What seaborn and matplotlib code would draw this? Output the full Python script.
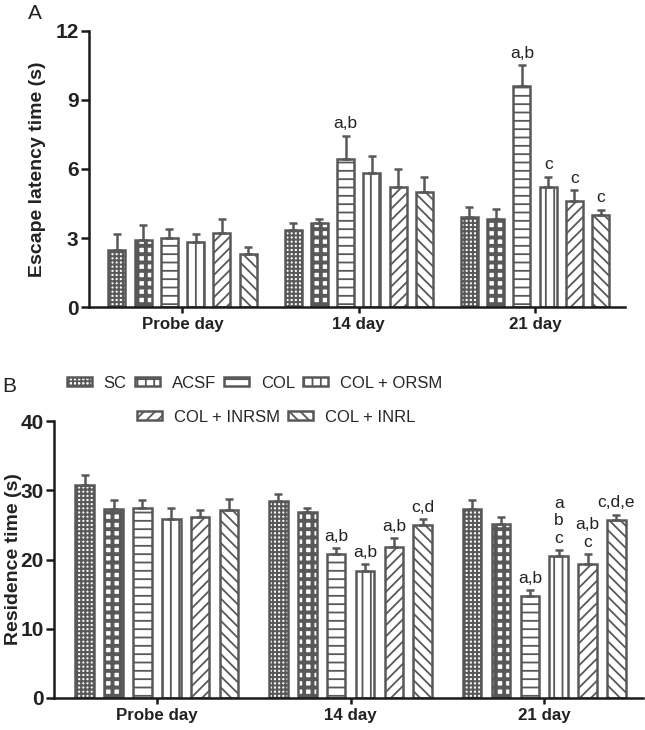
"""
Morris water maze: escape latency (A) and residence time (B) by group
"""
import matplotlib
matplotlib.use('Agg')
import matplotlib.pyplot as plt
from matplotlib import font_manager
from matplotlib.patches import Patch
import numpy as np
import pandas as pd
import seaborn as sns
import warnings

warnings.filterwarnings('ignore')

sns.set_style('ticks')
plt.rcParams['font.family'] = ['Liberation Sans', 'DejaVu Sans']

# ========== data ==========
days = ['Probe day', '14 day', '21 day']
groups = ['SC', 'ACSF', 'COL', 'COL + ORSM', 'COL + INRSM', 'COL + INRL']

# rows = days, columns = groups
latency_mean = [[2.47, 2.94, 2.99, 2.82, 3.24, 2.33],
                [3.37, 3.65, 6.45, 5.84, 5.20, 5.02],
                [3.90, 3.82, 9.60, 5.20, 4.60, 4.02]]
latency_sem = [[0.73, 0.61, 0.39, 0.34, 0.61, 0.27],
               [0.27, 0.20, 1.00, 0.74, 0.80, 0.65],
               [0.47, 0.46, 0.92, 0.47, 0.47, 0.22]]
latency_marks = [['', '', '', '', '', ''],
                 ['', '', 'a,b', '', '', ''],
                 ['', '', 'a,b', 'c', 'c', 'c']]

residence_mean = [[30.8, 27.3, 27.5, 25.9, 26.2, 27.2],
                  [28.4, 26.9, 20.8, 18.3, 21.8, 25.0],
                  [27.3, 25.2, 14.7, 20.5, 19.3, 25.7]]
residence_sem = [[1.4, 1.3, 1.1, 1.5, 1.0, 1.6],
                 [1.1, 0.6, 0.9, 1.1, 1.3, 0.9],
                 [1.3, 0.9, 0.9, 0.9, 1.5, 0.8]]
residence_marks = [['', '', '', '', '', ''],
                   ['', '', 'a,b', 'a,b', 'a,b', 'c,d'],
                   ['', '', 'a,b', 'a\nb\nc', 'a,b\nc', 'c,d,e']]

# ========== style ==========
EDGE = '#585858'
AXIS = '#1a1a1a'
TEXT = '#222222'
HATCHES = ['++++', '++', '--', '||', '///', '\\\\\\']
HATCH_LW = [1.5, 2.8, 1.3, 1.3, 1.3, 1.3]
plt.rcParams['hatch.color'] = EDGE
plt.rcParams['hatch.linewidth'] = 1.3
per_artist_hatch = hasattr(Patch, 'set_hatch_linewidth')

names = [f.name for f in font_manager.fontManager.ttflist]
if 'Liberation Sans Narrow' in names:
    LEGEND_FONT, LEGEND_SIZE = 'Liberation Sans Narrow', 14
else:
    LEGEND_FONT, LEGEND_SIZE = 'Liberation Sans', 12


def style_bar(patch, i):
    patch.set_hatch(HATCHES[i])
    if per_artist_hatch:
        patch.set_hatch_linewidth(HATCH_LW[i])


def draw_panel(ax, means, sems, marks, ymax, yticks, ylabel):
    df = pd.DataFrame({
        'day': np.repeat(days, len(groups)),
        'group': groups * len(days),
        'value': np.ravel(means),
    })
    sns.barplot(data=df, x='day', y='value', hue='group', order=days, hue_order=groups,
                palette={g: 'white' for g in groups}, saturation=1,
                width=0.894, gap=0.355, errorbar=None, legend=False,
                edgecolor=EDGE, linewidth=1.8, ax=ax)

    sems = np.asarray(sems)
    bar_conts = list(ax.containers)
    for i, cont in enumerate(bar_conts):
        xs, hs, es, labels = [], [], [], []
        for bar in cont:
            style_bar(bar, i)
            xc = bar.get_x() + bar.get_width() / 2
            d = int(round(xc))
            xs.append(xc)
            hs.append(bar.get_height())
            es.append(sems[d, i])
            labels.append(marks[d][i])
        ax.errorbar(xs, hs, yerr=[np.zeros(len(es)), es], fmt='none', ecolor=EDGE,
                    elinewidth=1.8, capsize=3, capthick=1.8, zorder=3)
        for x, h, e, lab in zip(xs, hs, es, labels):
            if lab:
                ax.annotate(lab, (x, h + e), xytext=(0, 3), textcoords='offset points',
                            ha='center', va='bottom', fontsize=12.5, linespacing=1.2,
                            color=TEXT)

    ax.set_ylim(0, ymax)
    ax.set_xlim(-0.53, 2.51)
    ax.set_yticks(yticks)
    ax.set_xlabel('')
    ax.set_ylabel(ylabel, fontsize=14, fontweight='bold', color=TEXT)
    sns.despine(ax=ax)
    for side in ['left', 'bottom']:
        ax.spines[side].set_linewidth(1.8)
        ax.spines[side].set_color(AXIS)
    ax.tick_params(axis='y', length=5.5, width=1.8, color=AXIS, labelsize=15, pad=2)
    ax.tick_params(axis='x', length=4, width=1.8, color=AXIS, labelsize=12.2, pad=3)
    for lbl in ax.get_xticklabels() + ax.get_yticklabels():
        lbl.set_fontweight('bold')
        lbl.set_color(TEXT)


fig = plt.figure(figsize=(6.45, 7.3), dpi=100)
axA = fig.add_axes([0.138, 0.579, 0.831, 0.379])
axB = fig.add_axes([0.084, 0.044, 0.913, 0.379])

draw_panel(axA, latency_mean, latency_sem, latency_marks, 12, [0, 3, 6, 9, 12],
           'Escape latency time (s)')
draw_panel(axB, residence_mean, residence_sem, residence_marks, 40, [0, 10, 20, 30, 40],
           'Residence time (s)')
axA.yaxis.set_label_coords(-0.08, 0.5)
axB.yaxis.set_label_coords(-0.055, 0.5)

fig.text(0.043, 0.995, 'A', fontsize=15, va='top', color=TEXT)
fig.text(0.003, 0.484, 'B', fontsize=15, va='top', color=TEXT)

# legend in two centred rows
handles = []
for i, g in enumerate(groups):
    h = Patch(facecolor='white', edgecolor=EDGE, linewidth=1.8, hatch=HATCHES[i], label=g)
    if per_artist_hatch:
        h.set_hatch_linewidth(HATCH_LW[i])
    handles.append(h)

leg_kw = dict(frameon=False, borderpad=0, borderaxespad=0, handlelength=1.5,
              handleheight=0.5, handletextpad=0.7, columnspacing=0.5,
              prop={'family': LEGEND_FONT, 'size': LEGEND_SIZE})
fig.legend(handles=handles[:4], loc='center left', bbox_to_anchor=(67 / 645, 1 - 383 / 730),
           ncol=4, **leg_kw)
fig.legend(handles=handles[4:], loc='center left', bbox_to_anchor=(137 / 645, 1 - 417 / 730),
           ncol=2, **leg_kw)

plt.savefig('out.png', dpi=100)
plt.close()
